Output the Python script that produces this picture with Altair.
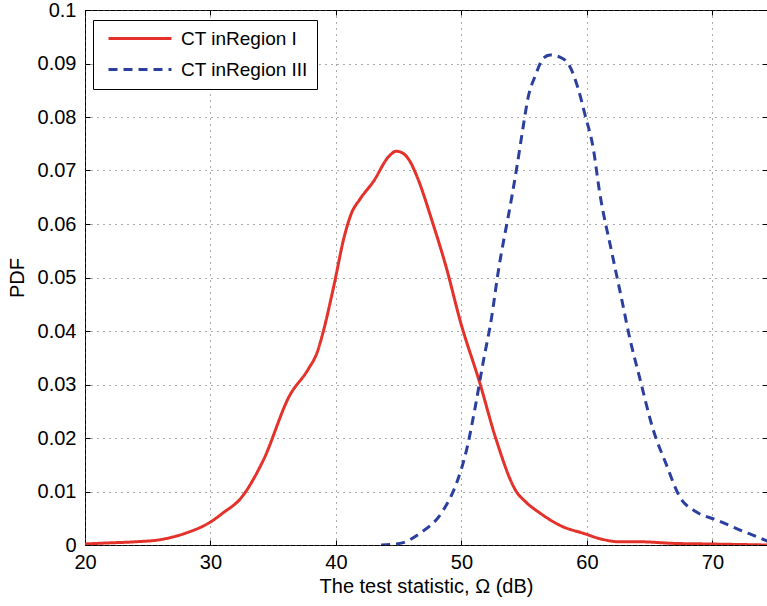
import altair as alt
import pandas as pd

# Series 1: CT inRegion I
x_r1 = [20, 22, 24, 26, 28, 30, 31, 32.4, 34.2, 36.3, 37.8, 38.5, 39.0, 39.8, 40.7, 41.25,
        41.9, 43.0, 44.2, 44.8, 45.2, 45.9, 46.4, 47.75, 48.8, 49.9, 51.5, 52.7, 54.4, 55.1,
        56.3, 58.1, 59.7, 61.0, 62.6, 64.2, 66.9, 69.5, 74.5]
y_r1 = [0.0002, 0.0004, 0.0006, 0.0010, 0.0022, 0.0043, 0.0060, 0.0087, 0.0158, 0.0279,
        0.0329, 0.0360, 0.0400, 0.0481, 0.0580, 0.0621, 0.0646, 0.0680, 0.0726, 0.0736,
        0.0734, 0.0717, 0.0692, 0.0599, 0.0518, 0.0419, 0.0300, 0.0202, 0.0099, 0.0081,
        0.0059, 0.0034, 0.0022, 0.0012, 0.0006, 0.0006, 0.0003, 0.0002, 0.0000]

# Series 2: CT inRegion III
x_r3 = [43.6, 45.1, 46.7, 48.55, 49.6, 50.4, 51.1, 51.7, 52.4, 52.9, 54.0, 54.4, 54.9, 55.3,
        55.9, 56.5, 57.05, 57.85, 58.65, 59.3, 59.85, 60.5, 61.0, 62.0, 62.8, 63.4, 64.2,
        65.3, 66.3, 67.4, 68.7, 70.3, 72.2, 74.2, 75.0]
y_r3 = [0.0, 0.0003, 0.0022, 0.0065, 0.0115, 0.0177, 0.0258, 0.0338, 0.0425, 0.0506,
        0.0649, 0.0704, 0.0779, 0.0835, 0.0878, 0.0909, 0.0916, 0.0912, 0.0894, 0.0853,
        0.0804, 0.0742, 0.0661, 0.0545, 0.0456, 0.0388, 0.0313, 0.0214, 0.0152, 0.0090,
        0.0062, 0.0047, 0.0028, 0.0009, 0.0]

series_names = ["CT inRegion I", "CT inRegion III"]
x_ticks = [20, 30, 40, 50, 60, 70]
y_ticks = [0, 0.01, 0.02, 0.03, 0.04, 0.05, 0.06, 0.07, 0.08, 0.09, 0.1]

df = pd.concat([
    pd.DataFrame({"x": x_r1, "y": y_r1, "series": series_names[0], "order": range(len(x_r1))}),
    pd.DataFrame({"x": x_r3, "y": y_r3, "series": series_names[1], "order": range(len(x_r3))}),
])

FONT = "Liberation Sans"
xscale = alt.Scale(domain=[20, 74.35], nice=False, zero=False)
yscale = alt.Scale(domain=[0, 0.1], nice=False)

base = alt.Chart(df)

lines = base.mark_line(strokeWidth=3, clip=True, interpolate="monotone").encode(
    x=alt.X("x:Q", scale=xscale,
            axis=alt.Axis(values=x_ticks, title="The test statistic, Ω (dB)", format="d",
                          orient="bottom", offset=-5, tickSize=5, domain=False,
                          labelPadding=7, titlePadding=4, labelFlush=False)),
    y=alt.Y("y:Q", scale=yscale,
            axis=alt.Axis(values=y_ticks, title="PDF", format=".2~f",
                          orient="left", offset=-5, tickSize=5, domain=False,
                          labelPadding=9, titlePadding=10, labelFlush=False)),
    color=alt.Color("series:N", scale=alt.Scale(domain=series_names, range=["#e4322b", "#2b3f9f"]),
                    legend=alt.Legend(title=None, orient="none", legendX=8, legendY=10,
                                      symbolType="M-0.375,0H7.5", symbolSize=256, symbolStrokeWidth=3,
                                      strokeColor="black", fillColor="white", padding=9,
                                      labelFontSize=19, labelFont=FONT, labelColor="black",
                                      labelOffset=60, rowPadding=11, labelLimit=300,
                                      labelExpr="datum.label + '  '")),
    strokeDash=alt.StrokeDash("series:N", scale=alt.Scale(domain=series_names, range=[[1, 0], [9, 6]]),
                              legend=None),
    order="order:Q",
)

ticks_layer = base.mark_point(opacity=0, clip=True).encode(
    x=alt.X("x:Q", scale=xscale,
            axis=alt.Axis(values=x_ticks, orient="top", offset=-5, tickSize=5, domain=False,
                          labels=False, grid=False, title=None)),
    y=alt.Y("y:Q", scale=yscale,
            axis=alt.Axis(values=y_ticks, orient="right", offset=-5, tickSize=5, domain=False,
                          labels=False, grid=False, title=None)),
)

chart = alt.layer(lines, ticks_layer).resolve_axis(
    x="independent", y="independent"
).properties(
    width=682, height=535,
    autosize=alt.AutoSizeParams(type="none"),
    padding={"left": 85, "top": 10, "right": 0, "bottom": 61},
).configure(
    background="white"
).configure_view(
    stroke="black", strokeWidth=1
).configure_axis(
    labelFont=FONT, titleFont=FONT, labelFontSize=20, titleFontSize=20,
    labelColor="black", titleColor="black", titleFontWeight="normal",
    domainColor="black", tickColor="black",
    grid=True, gridColor="#555555", gridDash=[1, 5], gridWidth=1,
)

chart.save("out.html", embed_options={"renderer": "svg", "actions": False})
